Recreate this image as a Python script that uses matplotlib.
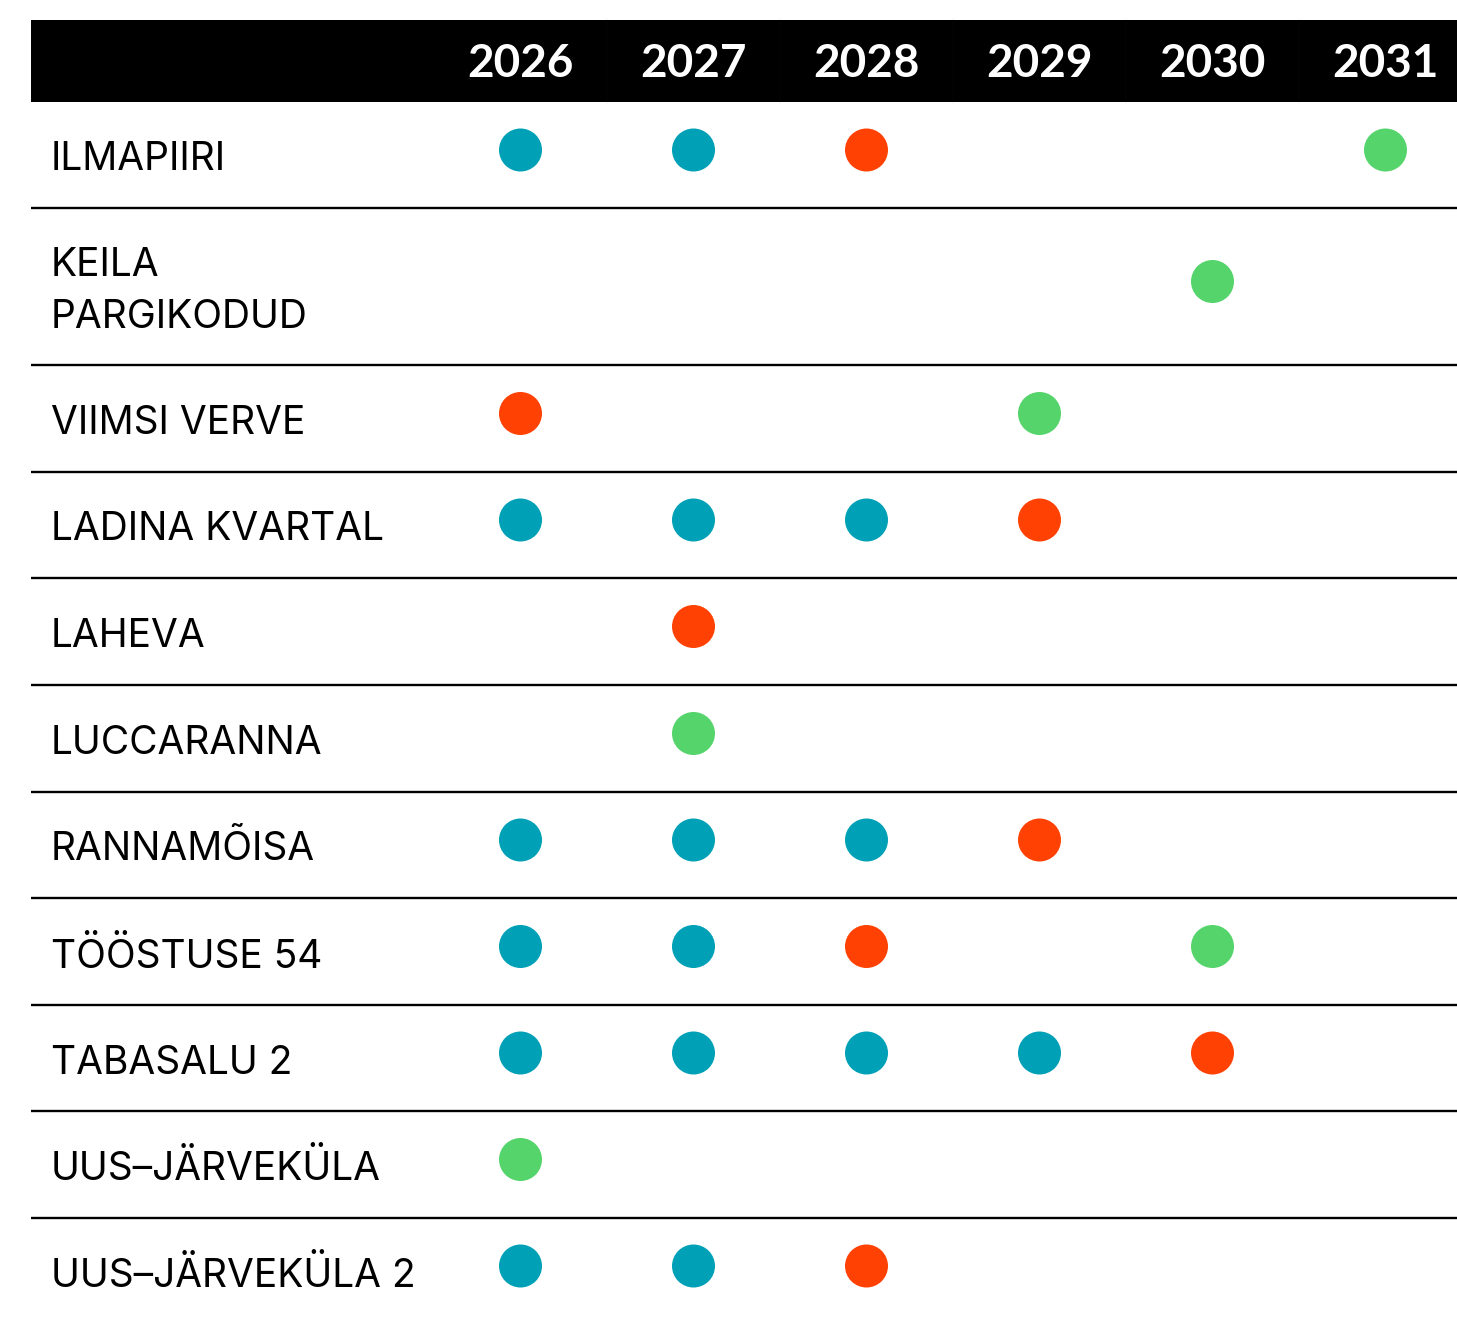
import matplotlib.pyplot as plt
from matplotlib.patches import Rectangle, Circle

# data
years = ["2026", "2027", "2028", "2029", "2030", "2031"]
projects = [
    "ILMAPIIRI",
    "KEILA\nPARGIKODUD",
    "VIIMSI VERVE",
    "LADINA KVARTAL",
    "LAHEVA",
    "LUCCARANNA",
    "RANNAMÕISA",
    "TÖÖSTUSE 54",
    "TABASALU 2",
    "UUS–JÄRVEKÜLA",
    "UUS–JÄRVEKÜLA 2",
]
# one status code per year: t = teal, r = red, g = green, "" = none
ilmapiiri = ["t", "t", "r", "", "", "g"]
keila = ["", "", "", "", "g", ""]
viimsi = ["r", "", "", "g", "", ""]
ladina = ["t", "t", "t", "r", "", ""]
laheva = ["", "r", "", "", "", ""]
luccaranna = ["", "g", "", "", "", ""]
rannamoisa = ["t", "t", "t", "r", "", ""]
toostuse = ["t", "t", "r", "", "g", ""]
tabasalu = ["t", "t", "t", "t", "r", ""]
jarvekula = ["g", "", "", "", "", ""]
jarvekula2 = ["t", "t", "r", "", "", ""]
statuses = [ilmapiiri, keila, viimsi, ladina, laheva, luccaranna,
            rannamoisa, toostuse, tabasalu, jarvekula, jarvekula2]

colors = {"t": "#00A0B6", "r": "#FF4204", "g": "#55D46B"}

# layout in pixels
W, H = 1457, 1317
left, right = 31, 1457
head_top, head_bot = 20, 102
col_x0, col_w = 434, 173
row_h = [106, 157, 107, 106, 107, 107, 106, 107, 106, 107, 106]

fig = plt.figure(figsize=(W / 100, H / 100), dpi=100)
ax = fig.add_axes([0, 0, 1, 1])
ax.set_xlim(0, W)
ax.set_ylim(H, 0)
ax.axis("off")

# header band
ax.add_patch(Rectangle((left, head_top), right - left, head_bot - head_top,
                       color="black", lw=0))
for i, yr in enumerate(years):
    xc = col_x0 + col_w * (i + 0.5)
    ax.text(xc, (head_top + head_bot) / 2 + 3, yr, color="white",
            fontsize=33, fontweight="bold", family="Lato",
            ha="center", va="center")
# faint cell seams in the header
for i in range(1, len(years)):
    xb = col_x0 + col_w * i
    ax.plot([xb, xb], [head_top, head_bot], color="#0c0c0c", lw=0.3)

# rows
y = head_bot
for name, row, h in zip(projects, statuses, row_h):
    yc = y + h / 2
    ax.text(51, yc + 5, name, fontsize=28, family="Inter", color="black",
            ha="left", va="center", linespacing=1.5)
    for i, s in enumerate(row):
        if s:
            xc = col_x0 + col_w * (i + 0.5)
            ax.add_patch(Circle((xc, yc - 5), 21.5, color=colors[s], lw=0))
    y += h
    if y < H - 20:
        ax.plot([left, right], [y, y], color="black", lw=1.7,
                solid_capstyle="butt")

fig.savefig("out.png", dpi=100)
